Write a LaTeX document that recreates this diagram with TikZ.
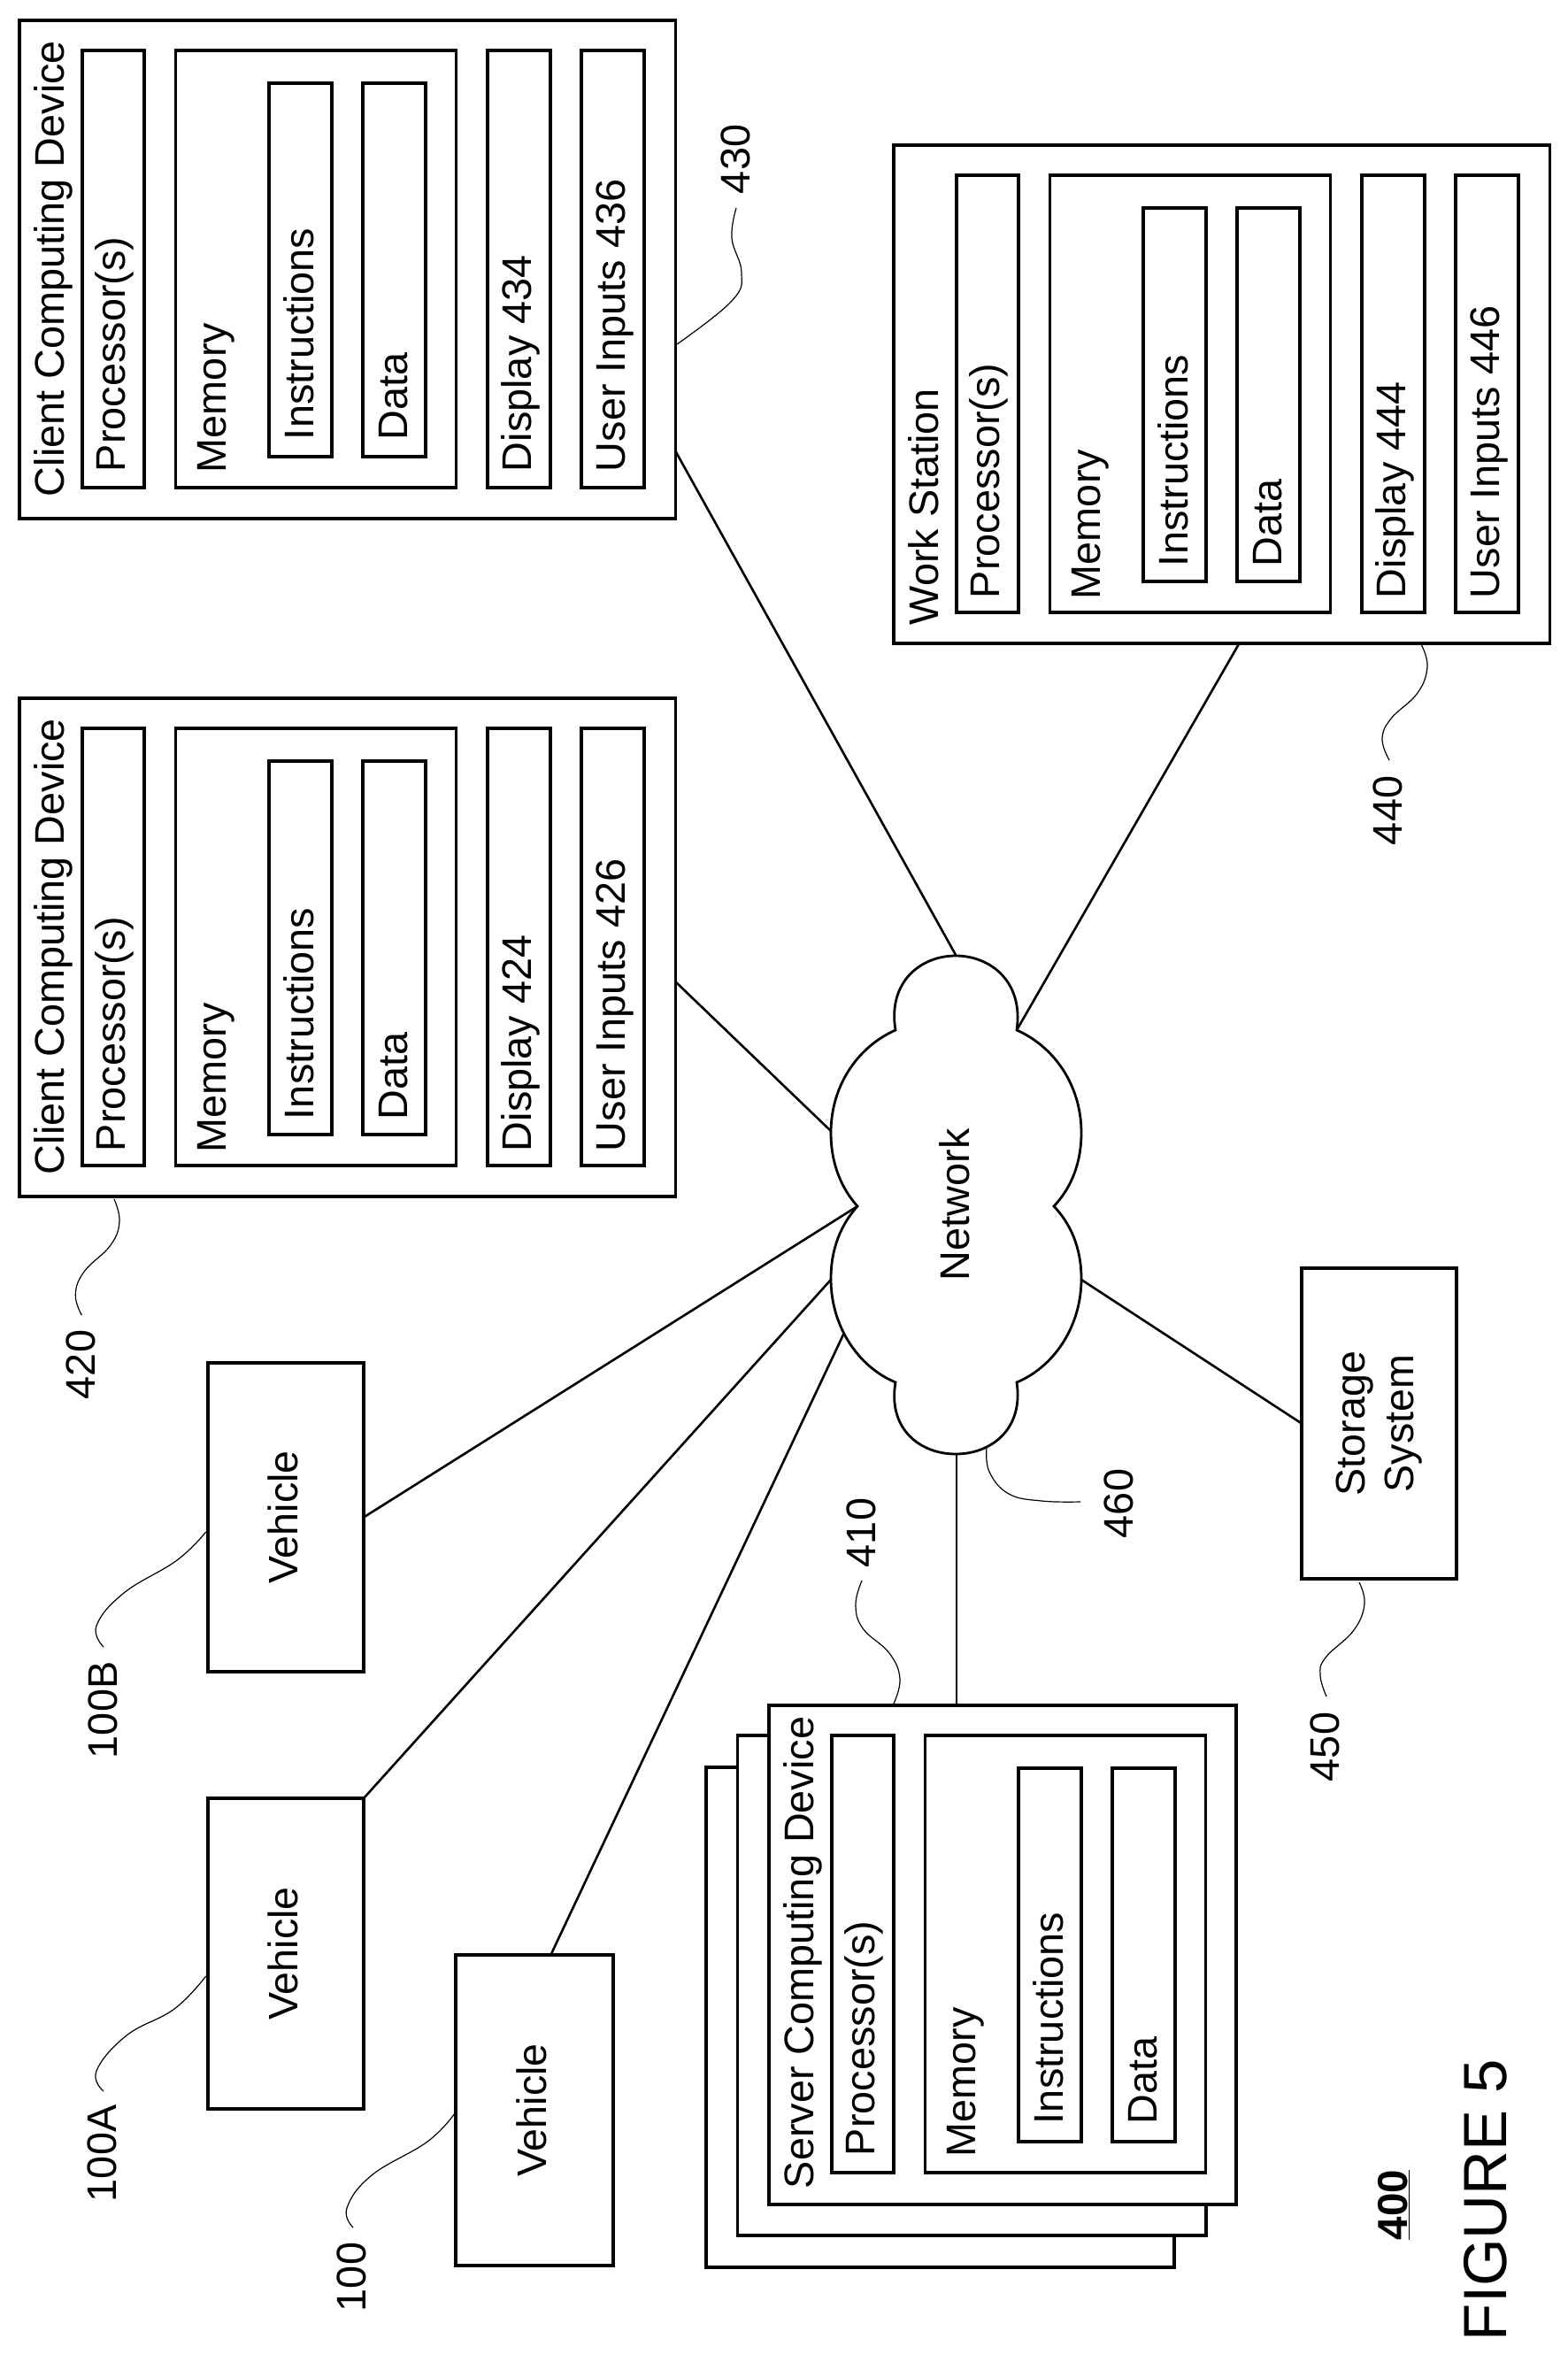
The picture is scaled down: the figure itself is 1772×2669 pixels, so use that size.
\documentclass[tikz,border=0pt]{standalone}
\usepackage{fontspec}
\setmainfont{Liberation Sans}
\tikzset{
  bx/.style={draw=black,fill=white,line width=3.4pt,inner sep=0pt,outer sep=0pt,line join=miter},
  lbl/.style={rotate=90,anchor=base west,inner sep=0pt,outer sep=0pt,font=\fontsize{46.8}{53}\selectfont},
  ctr/.style={rotate=90,anchor=center,inner sep=0pt,outer sep=0pt,align=center,font=\fontsize{46.6}{55}\selectfont},
  conn/.style={draw=black,line width=2.6pt},
  leader/.style={draw=black,line width=1.2pt},
  cloudshape/.style={draw=black,fill=white,line width=2.8pt,line join=miter}
}
\newcommand\tdy{0}
% box from corners: name, x1, y1, x2, y2
\newcommand\rbox[5]{\node[bx,minimum width={(#4-#2)*1pt},minimum height={(#5-#3)*1pt}] (#1) at ({(#2+#4)/2},{(#3+#5)/2}) {};}
% processor, memory, instructions, data (name prefix)
\newcommand\devparts[1]{%
  \rbox{#1proc}{93}{57}{163}{551}
  \rbox{#1mem}{198.6}{57}{515.5}{551}
  \rbox{#1ins}{304}{94}{375}{516}
  \rbox{#1dat}{410}{94}{481}{516}
  \node[lbl] (#1tproc) at (141,532+\tdy) {Processor(s)};
  \node[lbl] (#1tmem) at (255.5,533+\tdy) {Memory};
  \node[lbl] (#1tins) at (354,496+\tdy) {Instructions};
  \node[lbl] (#1tdat) at (460,496+\tdy) {Data};
}
% display and user input columns
\newcommand\devio[3]{%
  \rbox{#1disp}{551}{57}{622}{551}
  \rbox{#1user}{657}{57}{728}{551}
  \node[lbl] (#1tdisp) at (600,532+\tdy) {Display #2};
  \node[lbl] (#1tuser) at (706,532+\tdy) {User Inputs #3};
}
\begin{document}
\begin{tikzpicture}[x=1pt,y=-1pt]
\fill[white] (0,0) rectangle (1772,2669);
\useasboundingbox (0,0) rectangle (1772,2669);

% client 430
\begin{scope}
  \renewcommand\tdy{1}
  \rbox{cc}{22}{23}{763.5}{586}
  \devparts{cc}
  \devio{cc}{434}{436}
  \node[lbl] (cct) at (72,561) {Client Computing Device};
\end{scope}
% client 420
\begin{scope}[shift={(0,766)}]
  \renewcommand\tdy{3}
  \rbox{cb}{22}{23}{763.5}{586}
  \devparts{cb}
  \devio{cb}{424}{426}
  \node[lbl] (cbt) at (72,561) {Client Computing Device};
\end{scope}
% work station 440
\begin{scope}[shift={(988,141)}]
  \renewcommand\tdy{3}
  \rbox{ws}{22}{23}{763.5}{586}
  \devparts{ws}
  \devio{ws}{444}{446}
  \node[lbl] (wst) at (72,565) {Work Station};
\end{scope}
% server stack 410
\rbox{srvc}{798}{1997}{1327}{2562}
\rbox{srvb}{833.5}{1961}{1363}{2526}
\begin{scope}[shift={(847,1904)}]
  \renewcommand\tdy{0}
  \rbox{srv}{22}{23}{550}{587}
  \devparts{sv}
  \node[lbl] (svt) at (72,569) {Server Computing Device};
\end{scope}

% vehicles and storage
\rbox{vb}{235}{1540}{411}{1889}
\node[ctr] (vbt) at ([xshift=-3.5pt]vb.center) {Vehicle};
\rbox{va}{235}{2032}{411}{2383}
\node[ctr] (vat) at ([xshift=-3.5pt]va.center) {Vehicle};
\rbox{vz}{515}{2209}{693}{2560}
\node[ctr] (vzt) at ([xshift=-3.5pt]vz.center) {Vehicle};
\rbox{st}{1471}{1433}{1646}{1784}
\node[ctr] (stt) at (st.center) {Storage\\System};

% cloud attachment points
\coordinate (nTop) at (1080,1079);
\coordinate (nNE) at (1149,1164);
\coordinate (nW) at (939,1278);
\coordinate (nWaist) at (969,1363);
\coordinate (nSW) at (939,1446);
\coordinate (nSSW) at (954,1506);
\coordinate (nE) at (1222,1446);
\coordinate (nBot) at (1081,1643);

% connectors
\draw[conn] (cc.-29.93) -- (nTop);
\draw[conn] (cb.-6.84) -- (nW);
\draw[conn] (ws.-86.29) -- (nNE);
\draw[conn] (vb.east) -- (nWaist);
\draw[conn] (va.north east) -- (nSW);
\draw[conn] (vz.84.15) -- (nSSW);
\draw[conn] (st.west) -- (nE);
\draw[conn] (nBot) -- (nBot |- srv.north);

% cloud
\path[cloudshape] (1012,1164)
  .. controls (1003,1110) and (1040,1080) .. (1080,1080)
  .. controls (1120,1080) and (1157,1110) .. (1149,1164)
  .. controls (1190,1182) and (1222,1225) .. (1222,1280)
  .. controls (1222,1315) and (1210,1343) .. (1191,1363)
  .. controls (1210,1383) and (1222,1410) .. (1222,1445)
  .. controls (1222,1500) and (1190,1545) .. (1149,1562)
  .. controls (1157,1615) and (1120,1643) .. (1080,1643)
  .. controls (1040,1643) and (1003,1615) .. (1012,1562)
  .. controls (971,1545) and (939,1500) .. (939,1445)
  .. controls (939,1410) and (951,1383) .. (969,1363)
  .. controls (951,1343) and (939,1315) .. (939,1280)
  .. controls (939,1225) and (971,1182) .. (1012,1164) -- cycle;
\node[lbl] (nett) at (1095,1447) {Network};

% leaders
\draw[leader] plot[smooth,tension=.7] coordinates {(765,389) (827,340) (838,308) (827,269) (832,235)};
\draw[leader] plot[smooth,tension=.7] coordinates {(129,1355) (135,1380) (125,1407) (95,1437) (85.3,1463) (92.3,1486)};
\draw[leader] plot[smooth,tension=.7] coordinates {(232.7,1731) (200,1763) (140,1800) (109,1837) (117,1861)};
\draw[leader] plot[smooth,tension=.7] coordinates {(232.7,2233) (197,2270) (143,2300) (109,2340) (117,2363)};
\draw[leader] plot[smooth,tension=.7] coordinates {(514,2388) (483,2420) (420,2458) (392,2495) (399,2517)};
\draw[leader] plot[smooth,tension=.7] coordinates {(1115,1636) (1118,1663) (1140,1688) (1177,1696) (1221,1697)};
\draw[leader] plot[smooth,tension=.7] coordinates {(1010,1925) (1017,1897) (1005,1868) (975,1840) (967,1813) (974,1786)};
\draw[leader] plot[smooth,tension=.7] coordinates {(1606,728) (1613,753) (1602,783) (1572,812) (1562,835) (1570,859)};
\draw[leader] plot[smooth,tension=.7] coordinates {(1536,1788) (1542,1812) (1530,1842) (1498,1873) (1492,1893) (1499,1917)};

% reference numerals
\node[lbl] (r430) at (847,219) {430};
\node[lbl] (r420) at (107,1581) {420};
\node[lbl] (r100b) at (132,1987) {100B};
\node[lbl] (r100a) at (131,2488) {100A};
\node[lbl] (r100) at (413,2612) {100};
\node[lbl] (r460) at (1280,1738) {460};
\node[lbl] (r410) at (989,1771) {410};
\node[lbl] (r440) at (1584,955) {440};
\node[lbl] (r450) at (1513,2013) {450};
\node[lbl,font=\fontsize{47.5}{50}\selectfont\bfseries] (r400) at (1590,2531) {\underline{400}};
\node[lbl,font=\fontsize{69}{78}\selectfont] (fig) at (1702,2645) {FIGURE 5};
\end{tikzpicture}
\end{document}
